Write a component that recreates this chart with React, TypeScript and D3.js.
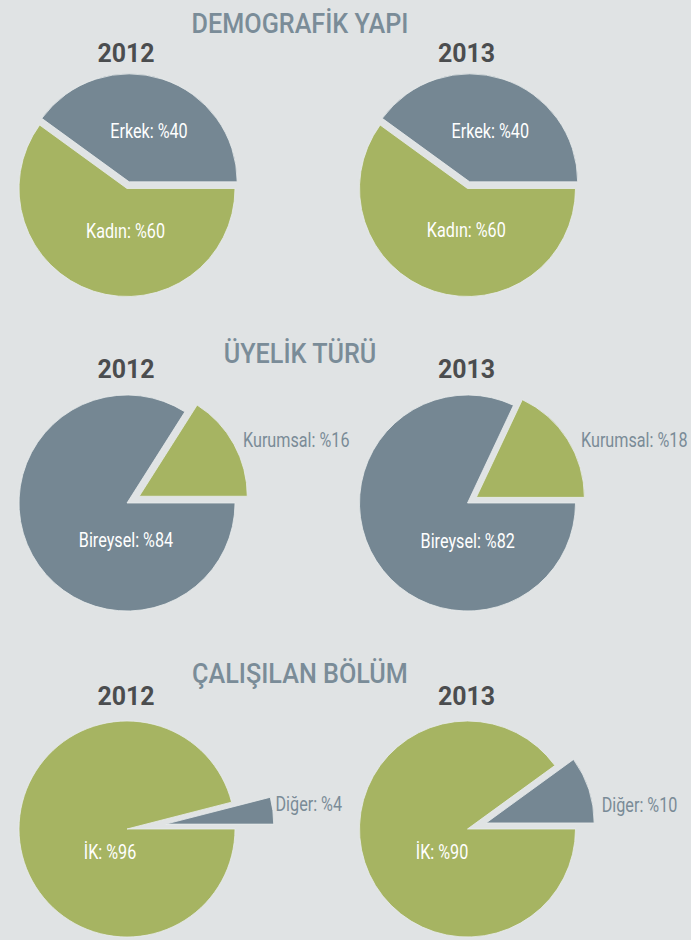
import React from "react";
import * as d3 from "d3";

// ---------- data ----------
const SECTION_TITLES = ["DEMOGRAFİK YAPI", "ÜYELİK TÜRÜ", "ÇALIŞILAN BÖLÜM"];
const YEARS = ["2012", "2013"];

const DEMO_LABELS = ["Kadın", "Erkek"];
const DEMO_2012 = [60, 40];
const DEMO_2013 = [60, 40];

const UYELIK_LABELS = ["Bireysel", "Kurumsal"];
const UYELIK_2012 = [84, 16];
const UYELIK_2013 = [82, 18];

const BOLUM_LABELS = ["İK", "Diğer"];
const BOLUM_2012 = [96, 4];
const BOLUM_2013 = [90, 10];

// ---------- style / layout ----------
const W = 691;
const H = 940;
const BG = "#e0e3e4";
const GREEN = "#a6b462";
const GRAY = "#758793";
const TITLE_COLOR = "#7a8c98";
const YEAR_COLOR = "#4b4d4f";
const OUT_LABEL_COLOR = "#7a8b97";

const TITLE_X = 300;
const COL_X = [127, 467.5];
const RADIUS = 108;
const SECTION_LAYOUT = [
  { titleY: 33, yearY: 62, cy: 188.5 },
  { titleY: 363, yearY: 378, cy: 503 },
  { titleY: 683, yearY: 705, cy: 829 },
];
// explode distance of the smaller (second) slice, per section and year
const EXPLODE = [
  [7, 7],
  [14, 10.5],
  [39, 19.6],
];
// label anchor offsets from pie centre [dx, baselineDy, outside?]
const LABEL_OFFSETS: [number, number, boolean][][][] = [
  [
    [[-1.5, 49.5, false], [22, -50.5, false]],
    [[-1.2, 48.4, false], [22.8, -51, false]],
  ],
  [
    [[-1, 44, false], [116, -56.3, true]],
    [[0.2, 45, false], [113.5, -56.3, true]],
  ],
  [
    [[-17, 29.5, false], [148.5, -17.8, true]],
    [[-25.5, 30, false], [134.2, -17.5, true]],
  ],
];

const SECTIONS = [
  { labels: DEMO_LABELS, series: [DEMO_2012, DEMO_2013], colors: [GREEN, GRAY] },
  { labels: UYELIK_LABELS, series: [UYELIK_2012, UYELIK_2013], colors: [GRAY, GREEN] },
  { labels: BOLUM_LABELS, series: [BOLUM_2012, BOLUM_2013], colors: [GREEN, GRAY] },
];

const HEAD_FONT = "Roboto, 'Noto Sans', sans-serif";
const LABEL_FONT = "Roboto, 'Noto Sans', sans-serif";
const LABEL_SCALE = 0.83;

const pieGen = d3
  .pie<number>()
  .sort(null)
  .value((d) => d)
  .startAngle(Math.PI / 2)
  .endAngle(Math.PI / 2 + 2 * Math.PI);

const arcGen = d3.arc<d3.PieArcDatum<number>>().innerRadius(0).outerRadius(RADIUS);

function Pie({ values, labels, colors, cx, cy, explode, offsets }: any) {
  const arcs = pieGen(values);
  return (
    <g transform={`translate(${cx},${cy})`}>
      {arcs.map((a, i) => {
        const mid = (a.startAngle + a.endAngle) / 2;
        const d = i === 1 ? explode : 0;
        const tx = Math.sin(mid) * d;
        const ty = -Math.cos(mid) * d;
        return (
          <path
            key={i}
            d={arcGen(a) || ""}
            transform={`translate(${tx},${ty})`}
            fill={colors[i]}
            stroke="#e9ecec"
            strokeWidth={0.8}
          />
        );
      })}
      {arcs.map((a, i) => {
        const [dx, dy, outside] = offsets[i];
        return (
          <g key={"l" + i} transform={`translate(${dx},${dy}) scale(${LABEL_SCALE},1)`}>
            <text
              x={0}
              y={0}
              textAnchor={outside ? "start" : "middle"}
              fill={outside ? OUT_LABEL_COLOR : "#ffffff"}
              fontFamily={LABEL_FONT}
              fontSize={19.5}
            >
              {`${labels[i]}: %${values[i]}`}
            </text>
          </g>
        );
      })}
    </g>
  );
}

export default function App() {
  return (
    <svg
      width={W}
      height={H}
      viewBox={`0 0 ${W} ${H}`}
      style={{ position: "absolute", left: 0, top: 0, display: "block" }}
    >
      <rect x={0} y={0} width={W} height={H} fill={BG} />
      {SECTIONS.map((s, si) => {
        const lay = SECTION_LAYOUT[si];
        return (
          <g key={si}>
            <g transform={`translate(${TITLE_X},${lay.titleY}) scale(0.9,1)`}>
              <text
                x={0}
                y={0}
                textAnchor="middle"
                fill={TITLE_COLOR}
                fontFamily={HEAD_FONT}
                fontWeight={500}
                fontSize={28}
              >
                {SECTION_TITLES[si]}
              </text>
            </g>
            {YEARS.map((yr, yi) => (
              <g key={yr}>
                <g transform={`translate(${COL_X[yi] - 1},${lay.yearY}) scale(0.94,1)`}>
                  <text
                    x={0}
                    y={0}
                    textAnchor="middle"
                    fill={YEAR_COLOR}
                    fontFamily={HEAD_FONT}
                    fontWeight={700}
                    fontSize={26.5}
                  >
                    {yr}
                  </text>
                </g>
                <Pie
                  values={s.series[yi]}
                  labels={s.labels}
                  colors={s.colors}
                  cx={COL_X[yi]}
                  cy={lay.cy}
                  explode={EXPLODE[si][yi]}
                  offsets={LABEL_OFFSETS[si][yi]}
                />
              </g>
            ))}
          </g>
        );
      })}
    </svg>
  );
}
